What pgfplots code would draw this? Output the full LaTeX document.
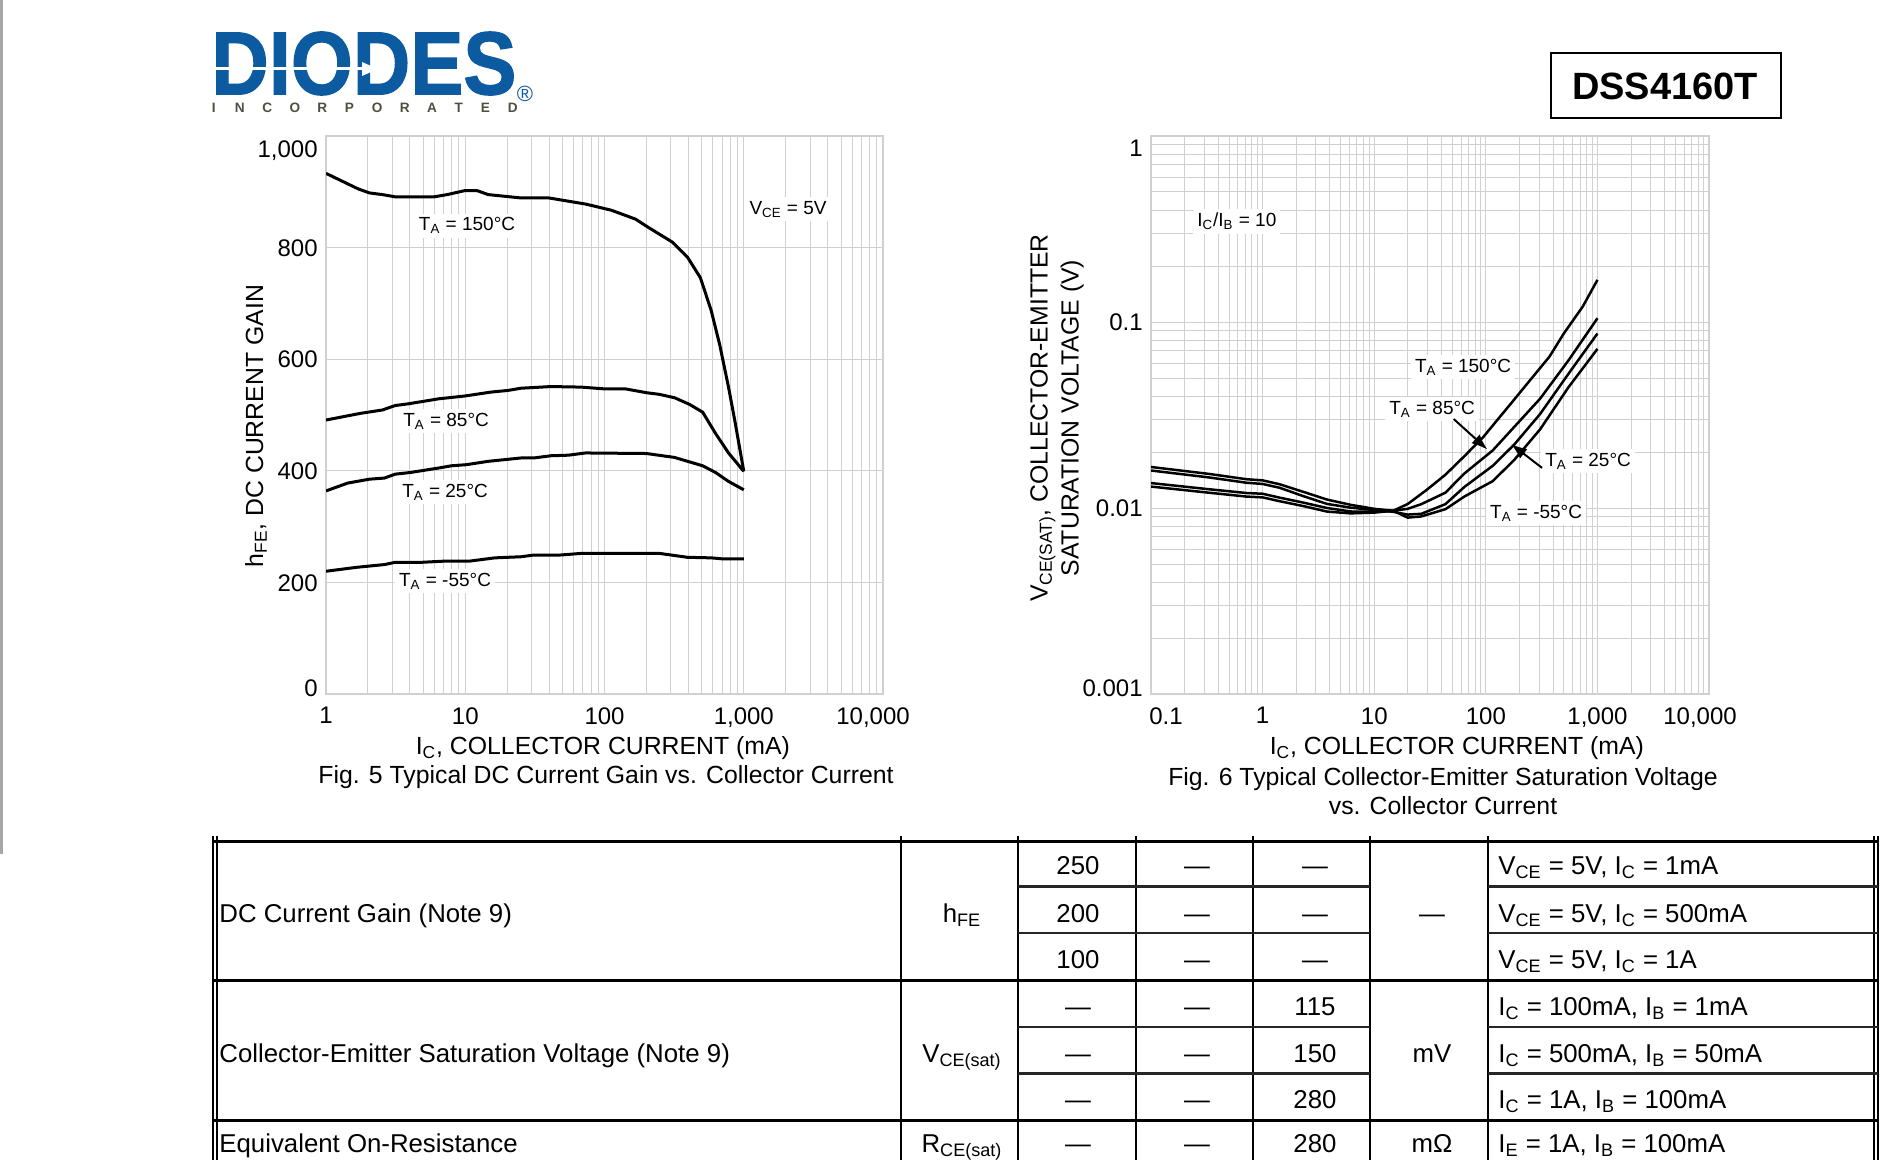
\documentclass[border=0pt]{standalone}
\usepackage{fontspec}
\setmainfont{Liberation Sans}
\newfontfamily\logofont{Liberation Sans Bold}[FakeBold=1.5]
\usepackage{pgfplots}
\pgfplotsset{compat=1.18}
\usetikzlibrary{arrows.meta}

\definecolor{diodesblue}{RGB}{12,90,160}
\definecolor{gridgray}{RGB}{208,208,208}
\definecolor{incgray}{RGB}{80,78,62}

\newcommand\fs[1]{\fontsize{#1bp}{1.25\dimexpr#1bp\relax}\selectfont}
\newcommand\sub[1]{\textsubscript{#1}}

\pgfplotsset{
  dsgrid/.style={
    scale only axis,
    axis line style={gridgray, line width=0.6bp},
    grid=both,
    major grid style={gridgray, line width=0.5bp},
    minor grid style={gridgray, line width=0.5bp},
    major tick length=0pt, minor tick length=0pt,
    tick label style={font=\fs{12}, inner sep=0pt},
    xticklabel style={yshift=-6.5bp},
    yticklabel style={anchor=base east, yshift=-4.3bp, xshift=-4bp},
    label style={font=\fontsize{12.4bp}{15.5bp}\selectfont},
    cycle list={{black, no marks}},
    every axis plot/.append style={line width=1.5bp},
  },
}
\tikzset{ann/.style={fill=white, inner sep=2bp, font=\fs{9.5}}}

\begin{document}
\begin{tikzpicture}
\begin{scope}[x=0.5bp, y=-0.5bp]
\path[use as bounding box] (0,0) rectangle (1884,1160);

% page edge
\fill[black!35] (0,0) rectangle (3,854);

% logo
\node[anchor=west, inner sep=0pt, text=diodesblue, font=\logofont\fontsize{44.7bp}{45bp}\selectfont, xscale=0.89] at (211,63.5) {DIODES};
\fill[white] (213,67.5) rectangle (364,70.5);
\fill[white] (362,62) -- (378,69) -- (362,76) -- cycle;
\node[anchor=west, inner sep=0pt, text=incgray, font=\bfseries\fs{6.8}] at (211.5,108)
  {I\hspace{9.6bp}N\hspace{8.8bp}C\hspace{8.8bp}O\hspace{8.6bp}R\hspace{8.8bp}P\hspace{9bp}O\hspace{8.6bp}R\hspace{8.8bp}A\hspace{8.8bp}T\hspace{9bp}E\hspace{9bp}D};
\node[inner sep=0pt, text=diodesblue, font=\fs{11}] at (525,94) {\textregistered};

% part number box
\draw[line width=1.2bp] (1551,53) rectangle (1781,118);
\node[font=\bfseries\fs{19}, inner sep=0pt] at (1665,86.5) {DSS4160T};

\node[font=\fs{12.4}] at (606,777) {Fig. 5 Typical DC Current Gain vs. Collector Current};
\node[font=\fs{12.4}] at (1443,779) {Fig. 6 Typical Collector-Emitter Saturation Voltage};
\node[font=\fs{12.4}] at (1443,806) {vs. Collector Current};

% electrical characteristics table (excerpt)
\foreach \x in {213,217,901,1018,1136,1253,1370,1488,1874,1878}
  \draw[line width=0.6bp] (\x,836) -- (\x,1160);
\foreach \y in {841,980.5,1120}
  \draw[line width=1.5bp] (213,\y) -- (1878,\y);
\foreach \y in {886.5,933,1027,1073.5} {
  \draw[line width=1.2bp, black!85] (1018,\y) -- (1370,\y);
  \draw[line width=1.2bp, black!85] (1488,\y) -- (1878,\y);
}
\begin{scope}[every node/.style={font=\fs{12.9}, inner sep=0pt}]
\node[anchor=base west] at (219,922) {DC Current Gain (Note 9)};
\node[anchor=base] at (962,922) {h\sub{FE}};
\node[anchor=base] at (1078,874) {250};
\node[anchor=base] at (1078,922) {200};
\node[anchor=base] at (1078,968) {100};
\foreach \y in {874,922,968} {
  \node[anchor=base] at (1197,\y) {—};
  \node[anchor=base] at (1315,\y) {—};
}
\node[anchor=base] at (1432,922) {—};
\node[anchor=base west] at (1498,874) {V\sub{CE} = 5V, I\sub{C} = 1mA};
\node[anchor=base west] at (1498,922) {V\sub{CE} = 5V, I\sub{C} = 500mA};
\node[anchor=base west] at (1498,968) {V\sub{CE} = 5V, I\sub{C} = 1A};

\node[anchor=base west] at (219,1062) {Collector-Emitter Saturation Voltage (Note 9)};
\node[anchor=base] at (962,1062) {V\sub{CE(sat)}};
\foreach \y/\v in {1015/115,1062/150,1108/280} {
  \node[anchor=base] at (1078,\y) {—};
  \node[anchor=base] at (1197,\y) {—};
  \node[anchor=base] at (1315,\y) {\v};
}
\node[anchor=base] at (1432,1062) {mV};
\node[anchor=base west] at (1498,1015) {I\sub{C} = 100mA, I\sub{B} = 1mA};
\node[anchor=base west] at (1498,1062) {I\sub{C} = 500mA, I\sub{B} = 50mA};
\node[anchor=base west] at (1498,1108) {I\sub{C} = 1A, I\sub{B} = 100mA};

\node[anchor=base west] at (219,1152) {Equivalent On-Resistance};
\node[anchor=base] at (962,1152) {R\sub{CE(sat)}};
\node[anchor=base] at (1078,1152) {—};
\node[anchor=base] at (1197,1152) {—};
\node[anchor=base] at (1315,1152) {280};
\node[anchor=base] at (1432,1152) {mΩ};
\node[anchor=base west] at (1498,1152) {I\sub{E} = 1A, I\sub{B} = 100mA};
\end{scope}
\end{scope}

% Fig. 5
\begin{axis}[dsgrid, at={(163bp,-347bp)}, anchor=south west,
  width=278.5bp, height=279bp,
  xmode=log, xmin=1, xmax=10000, ymin=0, ymax=1000,
  xtick={1,10,100,1000,10000},
  xticklabels={1,10,100,{1,000},{\hspace*{-10bp}10,000}},
  minor xtick={2,3,4,5,6,7,8,9,20,30,40,50,60,70,80,90,200,300,400,500,600,700,800,900,2000,3000,4000,5000,6000,7000,8000,9000},
  ytick={0,200,400,600,800,1000},
  yticklabels={\raisebox{3bp}{0},200,400,600,800,{\raisebox{-6.5bp}{1,000}}},
  xlabel={I\sub{C}, COLLECTOR CURRENT (mA)},
  ylabel={h\sub{FE}, DC CURRENT GAIN},
  xlabel style={at={(rel axis cs:0.497,-0.0968)}, anchor=center},
  ylabel style={at={(rel axis cs:-0.1257,0.480)}, anchor=center},
]
\addplot coordinates {(1,933)(1.71,905)(2.05,898)(2.54,895)(3.14,891)(5.98,891)(7.42,895)(9.88,902)(12.2,902)(14.6,895)(25.1,889)(39.9,889)(73.2,878)(112,867)(167,851)(207,836)(306,810)(394,783)(488,746)(584,687)(673,625)(777,550)(865,488)(1000,399)};
\addplot coordinates {(1,491)(1.77,503)(2.54,509)(3.14,517)(3.89,520)(6.43,529)(9.88,534)(15.2,541)(20.2,544)(25.1,548)(41.3,551)(68.1,550)(97.9,547)(140,547)(200,540)(248,537)(318,531)(408,519)(507,505)(627,467)(777,432)(1000,399)};
\addplot coordinates {(1,364)(1.43,378)(2.05,385)(2.63,387)(3.14,394)(4.04,397)(6.43,405)(7.96,409)(10.2,411)(14.6,417)(25.1,423)(31,423)(41.3,427)(55,428)(73.2,432)(200,431)(318,424)(507,409)(627,397)(777,381)(1000,366)};
\addplot coordinates {(1,220)(1.65,227)(2.63,232)(3.14,236)(4.83,236)(6.91,238)(10.6,238)(16.3,244)(25.1,246)(31,249)(47.6,249)(68.1,252)(248,252)(394,245)(584,244)(718,242)(1000,242)};
\node[ann] at (axis cs:10.3,839) {T\sub{A} = 150°C};
\node[ann] at (axis cs:7.28,489) {T\sub{A} = 85°C};
\node[ann] at (axis cs:7.16,362) {T\sub{A} = 25°C};
\node[ann] at (axis cs:7.16,202) {T\sub{A} = -55°C};
\node[ann] at (axis cs:2080,869) {V\sub{CE} = 5V};
\end{axis}

% Fig. 6
\begin{axis}[dsgrid, at={(575.5bp,-347bp)}, anchor=south west,
  width=279bp, height=279bp,
  xmode=log, ymode=log, xmin=0.1, xmax=10000, ymin=0.001, ymax=1,
  xtick={0.1,1,10,100,1000,10000},
  xticklabels={{\hspace*{15bp}0.1},1,10,100,{1,000},{\hspace*{-9bp}10,000}},
  minor xtick={0.2,0.3,0.4,0.5,0.6,0.7,0.8,0.9,2,3,4,5,6,7,8,9,20,30,40,50,60,70,80,90,200,300,400,500,600,700,800,900,2000,3000,4000,5000,6000,7000,8000,9000},
  ytick={0.001,0.01,0.1,1},
  yticklabels={\raisebox{3bp}{0.001},0.01,0.1,\raisebox{-6bp}{1}},
  minor ytick={0.002,0.003,0.004,0.005,0.006,0.007,0.008,0.009,0.02,0.03,0.04,0.05,0.06,0.07,0.08,0.09,0.2,0.3,0.4,0.5,0.6,0.7,0.8,0.9},
  xlabel={I\sub{C}, COLLECTOR CURRENT (mA)},
  ylabel={V\sub{CE(SAT)}, COLLECTOR-EMITTER\\SATURATION VOLTAGE (V)},
  xlabel style={at={(rel axis cs:0.548,-0.0968)}, anchor=center},
  ylabel style={at={(rel axis cs:-0.1685,0.4946)}, anchor=center, align=center},
  every axis plot/.append style={line width=1.25bp},
]
% T_A = -55 C
\addplot coordinates {(0.1,0.01662)(0.329,0.01526)(0.719,0.01428)(1,0.01408)(1.42,0.01342)(2.32,0.01221)(3.78,0.0111)(6.16,0.0104)(10,0.00990)(14.8,0.00967)(19.9,0.00888)(26.4,0.00901)(43.4,0.00986)(64.2,0.01153)(115,0.01394)(179,0.0181)(306,0.02647)(550,0.0446)(1000,0.07173)};
% T_A = 25 C
\addplot coordinates {(0.1,0.01591)(0.329,0.01461)(0.719,0.01367)(1,0.01347)(1.42,0.01285)(2.32,0.01158)(3.78,0.01052)(6.16,0.01004)(10,0.00976)(14.8,0.00954)(19.9,0.00922)(26.4,0.00931)(43.4,0.01049)(64.2,0.01298)(115,0.01685)(179,0.02189)(306,0.032)(550,0.0527)(1000,0.08674)};
% T_A = 85 C
\addplot coordinates {(0.1,0.01362)(0.329,0.01262)(0.719,0.01204)(1,0.01193)(1.42,0.01137)(2.32,0.01069)(3.78,0.0100)(6.16,0.00958)(10,0.00954)(14.8,0.00967)(19.9,0.0099)(26.4,0.01049)(43.4,0.01209)(64.2,0.01534)(115,0.02038)(306,0.0387)(550,0.0622)(1000,0.1048)};
% T_A = 150 C
\addplot coordinates {(0.1,0.01304)(0.329,0.01209)(0.719,0.01152)(1,0.01141)(1.42,0.01088)(2.32,0.01024)(3.78,0.00957)(6.16,0.00936)(10,0.00945)(14.8,0.00967)(19.9,0.0105)(29.4,0.0125)(43.4,0.0151)(64.2,0.019)(94.9,0.0241)(127,0.0298)(170.6,0.0369)(252,0.0491)(372,0.0652)(499,0.0867)(738,0.121)(1000,0.1685)};
\node[ann] at (axis cs:0.587,0.347) {I\sub{C}/I\sub{B} = 10};
\node[ann] at (axis cs:62.5,0.0573) {T\sub{A} = 150°C};
\node[ann] at (axis cs:33,0.034) {T\sub{A} = 85°C};
\node[ann] at (axis cs:824,0.0179) {T\sub{A} = 25°C};
\node[ann] at (axis cs:282,0.0094) {T\sub{A} = -55°C};
\draw[line width=1bp, -{Latex[length=8bp,width=6bp]}] (axis cs:51.5,0.0301) -- (axis cs:103.5,0.0206);
\draw[line width=1bp, -{Latex[length=8bp,width=6bp]}] (axis cs:319,0.01643) -- (axis cs:168,0.0221);
\end{axis}
\end{tikzpicture}
\end{document}
